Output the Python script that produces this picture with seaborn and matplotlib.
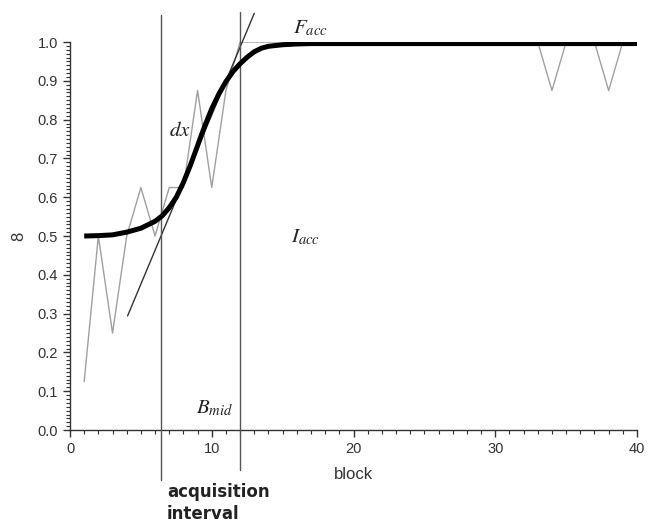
import numpy as np
import pandas as pd
import matplotlib
matplotlib.use("Agg")
import matplotlib.pyplot as plt
from matplotlib.ticker import MultipleLocator
import seaborn as sns

# Observed proportion correct per block
blocks = list(range(1, 41))
observed = [0.125, 0.5, 0.25, 0.5, 0.625, 0.5, 0.625, 0.625, 0.875, 0.625,
            0.875, 1.0, 1.0, 1.0, 1.0, 1.0, 1.0, 1.0, 1.0, 1.0,
            1.0, 1.0, 1.0, 1.0, 1.0, 1.0, 1.0, 1.0, 1.0, 1.0,
            1.0, 1.0, 1.0, 0.875, 1.0, 1.0, 1.0, 0.875, 1.0, 1.0]

# Fitted learning curve
fit_block = [1, 2, 3, 4, 5, 6, 6.5, 7, 7.5, 8, 8.5, 9, 9.5, 10, 10.5, 11,
             11.5, 12, 12.5, 13, 13.5, 14, 15, 16, 17, 18, 20, 25, 30, 35, 40]
fit_value = [0.500, 0.501, 0.503, 0.510, 0.520, 0.538, 0.552, 0.573, 0.600,
             0.638, 0.683, 0.733, 0.783, 0.828, 0.866, 0.898, 0.924, 0.944,
             0.961, 0.975, 0.984, 0.989, 0.993, 0.995, 0.996, 0.996, 0.996,
             0.996, 0.996, 0.996, 0.996]

# Tangent at the steepest point and the acquisition interval bounds
tangent_x = [4.06, 13.0]
tangent_y = [0.294, 1.074]
interval_bounds = [6.4, 12.0]

sns.set_style("ticks")
plt.rcParams["font.family"] = ["Liberation Sans", "DejaVu Sans"]
plt.rcParams["mathtext.fontset"] = "stix"

fig = plt.figure(figsize=(6.5, 5.22), dpi=100)
ax = fig.add_axes([0.1077, 0.1762, 0.8723, 0.7433])

obs_df = pd.DataFrame({"block": blocks, "p": observed})
fit_df = pd.DataFrame({"block": fit_block, "p": fit_value})

sns.lineplot(data=obs_df, x="block", y="p", ax=ax, color="#a0a0a0",
             linewidth=1.0, zorder=2)
sns.lineplot(data=fit_df, x="block", y="p", ax=ax, color="black",
             linewidth=3.6, zorder=4, solid_capstyle="butt")
ax.plot(tangent_x, tangent_y, color="#333333", linewidth=1.0,
        clip_on=False, zorder=3)
ax.plot([interval_bounds[0]] * 2, [1.070, -0.129], color="#555555",
        linewidth=1.0, clip_on=False, zorder=3)
ax.plot([interval_bounds[1]] * 2, [1.077, -0.103], color="#555555",
        linewidth=1.0, clip_on=False, zorder=3)

ax.set_xlim(0, 40)
ax.set_ylim(0, 1.0)
ax.xaxis.set_major_locator(MultipleLocator(10))
ax.xaxis.set_minor_locator(MultipleLocator(1))
ax.yaxis.set_major_locator(MultipleLocator(0.1))
ax.yaxis.set_minor_locator(MultipleLocator(0.01))
ax.yaxis.set_major_formatter(plt.FuncFormatter(lambda v, _: f"{v:.1f}"))
ax.tick_params(axis="both", which="major", length=5, width=1,
               labelsize=10.5, color="#333333", labelcolor="#333333")
ax.tick_params(axis="both", which="minor", length=3, width=0.8,
               color="#333333")
for side in ("left", "bottom"):
    ax.spines[side].set_color("#333333")
    ax.spines[side].set_linewidth(1.0)
sns.despine(ax=ax)

ax.set_xlabel("block", fontsize=12, color="#333333", labelpad=8)
ax.set_ylabel("8", fontsize=12, color="#333333", labelpad=8)

serif = dict(fontsize=15, color="#222222", ha="center", va="center")
ax.text(16.97, 1.036, r"$F_{acc}$", clip_on=False, **serif)
ax.text(7.75, 0.773, r"$dx$", **serif)
ax.text(16.6, 0.497, r"$I_{acc}$", **serif)
ax.text(10.2, 0.057, r"$B_{mid}$", **serif)

fig.text(167 / 650, 1 - 483 / 522, "acquisition\ninterval", fontsize=12,
         fontweight="bold", color="#222222", ha="left", va="top",
         linespacing=1.3, family=["DejaVu Sans"])

fig.savefig("out.png", dpi=100, facecolor="white")
